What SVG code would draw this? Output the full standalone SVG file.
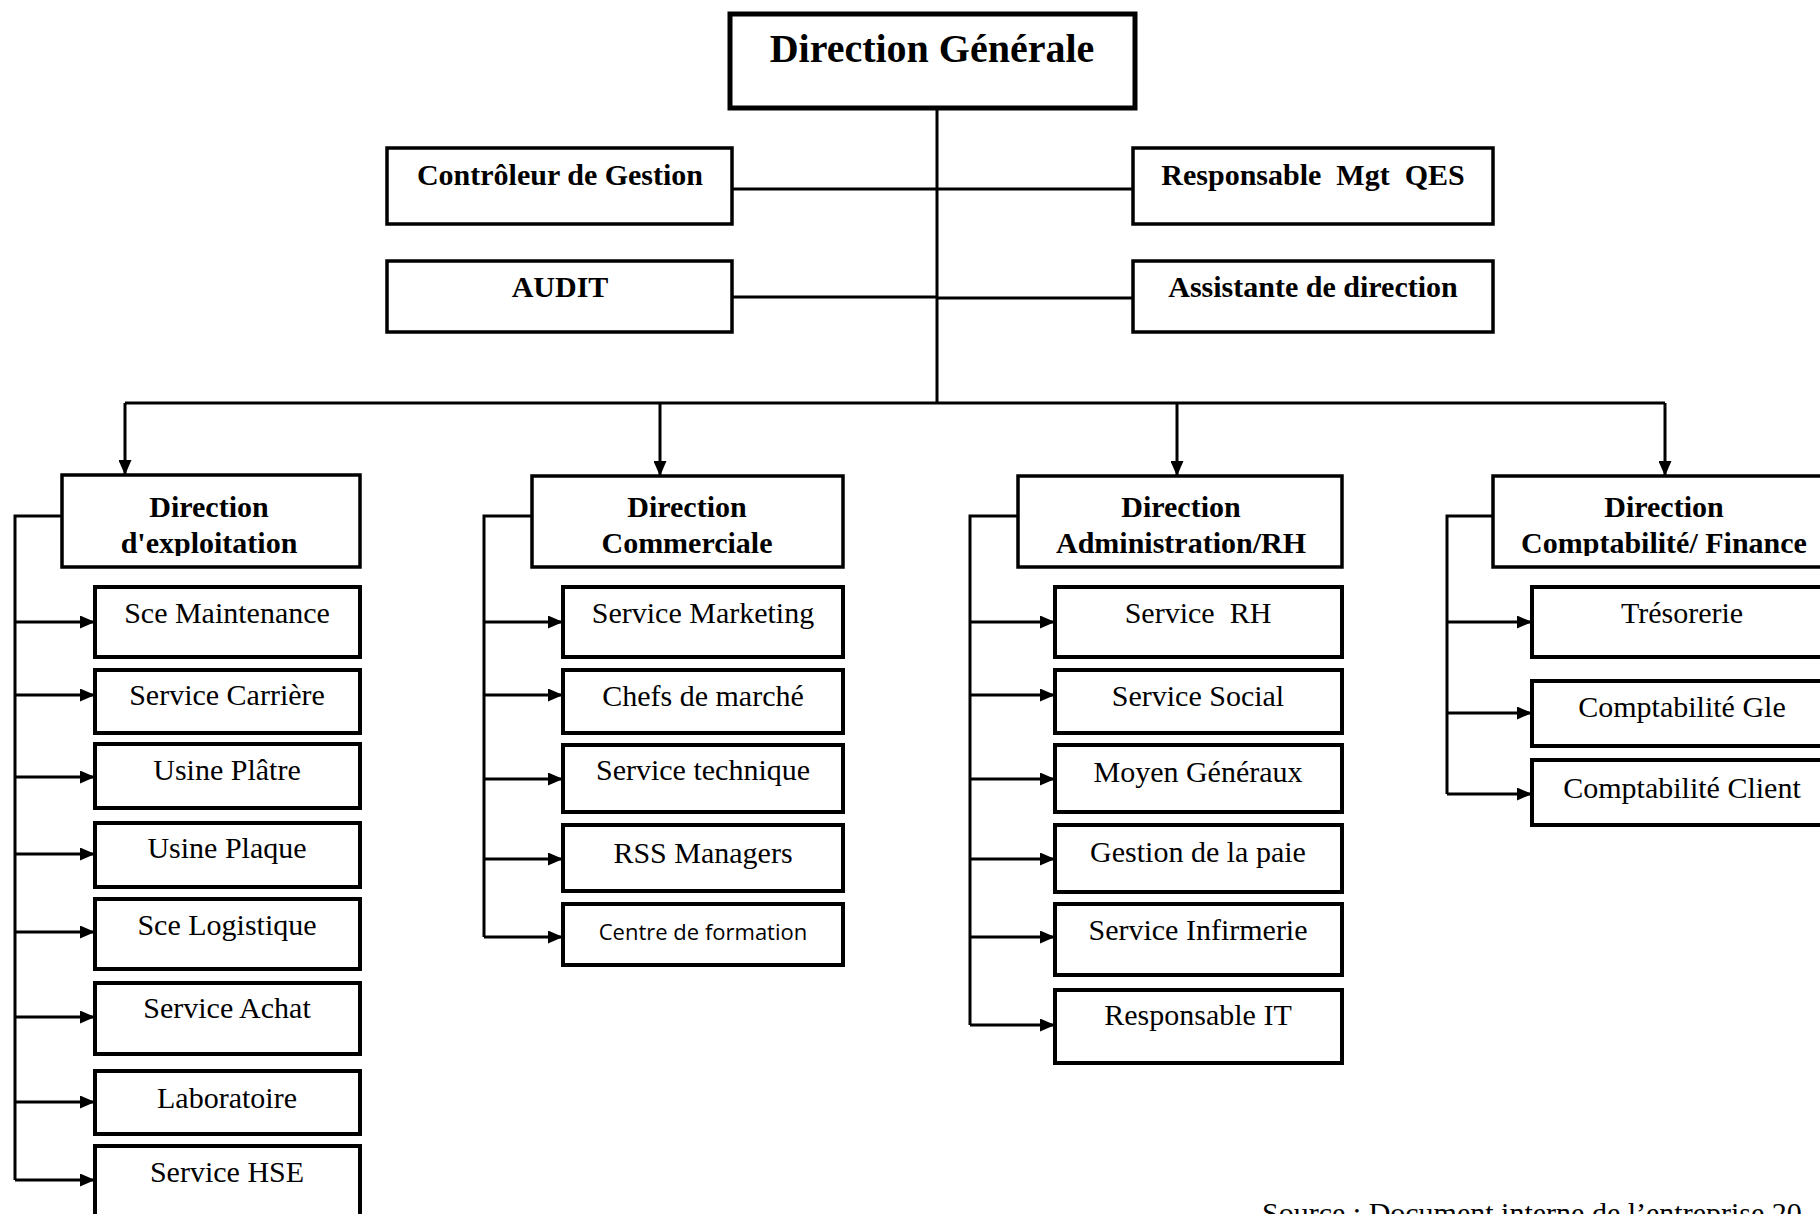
<svg xmlns="http://www.w3.org/2000/svg" width="1820" height="1214" viewBox="0 0 1820 1214">
<style>
.box{fill:#fff;stroke:#000;stroke-width:3.5}
.sub{fill:#fff;stroke:#000;stroke-width:4}
.top{fill:#fff;stroke:#000;stroke-width:5}
.b{font-family:"Liberation Serif","Times New Roman",serif;font-weight:bold;font-size:30px;text-anchor:middle;fill:#000}
.r{font-family:"Liberation Serif","Times New Roman",serif;font-size:30px;text-anchor:middle;fill:#000}
.s{font-family:"Open Sans","Liberation Sans",sans-serif;font-size:22px;text-anchor:middle;fill:#000}
.c{fill:none;stroke:#000;stroke-width:3}
.a{fill:none;stroke:#000;stroke-width:3;marker-end:url(#arr)}
</style>
<defs>
<marker id="arr" markerUnits="userSpaceOnUse" markerWidth="15" markerHeight="13" refX="15" refY="6.5" orient="auto">
<path d="M0,0 L15,6.5 L0,13 z" fill="#000"/>
</marker>
<clipPath id="hclip"><rect x="0" y="470" width="1820" height="86"/></clipPath>
</defs>
<rect width="1820" height="1214" fill="#fff"/>

<g id="connectors">
<path class="c" d="M937,108 V403"/>
<path class="c" d="M732,189 H937"/>
<path class="c" d="M732,297 H937"/>
<path class="c" d="M937,189 H1133"/>
<path class="c" d="M937,298 H1133"/>
<path class="c" d="M125,403 H1665"/>
<path class="a" d="M125,403 V475"/>
<path class="a" d="M660,403 V476"/>
<path class="a" d="M1177,403 V476"/>
<path class="a" d="M1665,403 V476"/>
<path class="c" d="M62,516 H15 V1180"/>
<path class="a" d="M15,622 H95"/>
<path class="a" d="M15,695 H95"/>
<path class="a" d="M15,777 H95"/>
<path class="a" d="M15,854 H95"/>
<path class="a" d="M15,932 H95"/>
<path class="a" d="M15,1017 H95"/>
<path class="a" d="M15,1102 H95"/>
<path class="a" d="M15,1180 H95"/>
<path class="c" d="M532,516 H484 V937"/>
<path class="a" d="M484,622 H563"/>
<path class="a" d="M484,695 H563"/>
<path class="a" d="M484,779 H563"/>
<path class="a" d="M484,859 H563"/>
<path class="a" d="M484,937 H563"/>
<path class="c" d="M1018,516 H970 V1025"/>
<path class="a" d="M970,622 H1055"/>
<path class="a" d="M970,695 H1055"/>
<path class="a" d="M970,779 H1055"/>
<path class="a" d="M970,859 H1055"/>
<path class="a" d="M970,937 H1055"/>
<path class="a" d="M970,1025 H1055"/>
<path class="c" d="M1493,516 H1447 V794"/>
<path class="a" d="M1447,622 H1532"/>
<path class="a" d="M1447,713 H1532"/>
<path class="a" d="M1447,794 H1532"/>
</g>

<g id="dg"><rect class="top" x="730" y="14" width="405" height="94"/><text class="b" style="font-size:40px" x="932" y="62">Direction Générale</text></g>
<g id="controleur"><rect class="box" x="387" y="148" width="345" height="76"/><text class="b" x="560" y="185">Contrôleur de Gestion</text></g>
<g id="audit"><rect class="box" x="387" y="261" width="345" height="71"/><text class="b" x="560" y="297">AUDIT</text></g>
<g id="qes"><rect class="box" x="1133" y="148" width="360" height="76"/><text class="b" x="1313" y="185" xml:space="preserve">Responsable  Mgt  QES</text></g>
<g id="assistante"><rect class="box" x="1133" y="261" width="360" height="71"/><text class="b" x="1313" y="297">Assistante de direction</text></g>

<g id="dir-exploitation"><rect class="box" x="62" y="475" width="298" height="92"/><g clip-path="url(#hclip)"><text class="b" x="209" y="517">Direction</text><text class="b" x="209" y="553">d'exploitation</text></g></g>
<g id="dir-commerciale"><rect class="box" x="532" y="476" width="311" height="91"/><g clip-path="url(#hclip)"><text class="b" x="687" y="517">Direction</text><text class="b" x="687" y="553">Commerciale</text></g></g>
<g id="dir-admin"><rect class="box" x="1018" y="476" width="324" height="91"/><g clip-path="url(#hclip)"><text class="b" x="1181" y="517">Direction</text><text class="b" x="1181" y="553">Administration/RH</text></g></g>
<g id="dir-compta"><rect class="box" x="1493" y="476" width="345" height="91"/><g clip-path="url(#hclip)"><text class="b" x="1664" y="517">Direction</text><text class="b" x="1664" y="553">Comptabilité/ Finance</text></g></g>

<g id="sce-maintenance"><rect class="sub" x="95" y="587" width="265" height="70"/><text class="r" x="227" y="623">Sce Maintenance</text></g>
<g id="service-carriere"><rect class="sub" x="95" y="670" width="265" height="63"/><text class="r" x="227" y="705">Service Carrière</text></g>
<g id="usine-platre"><rect class="sub" x="95" y="744" width="265" height="64"/><text class="r" x="227" y="780">Usine Plâtre</text></g>
<g id="usine-plaque"><rect class="sub" x="95" y="823" width="265" height="64"/><text class="r" x="227" y="858">Usine Plaque</text></g>
<g id="sce-logistique"><rect class="sub" x="95" y="899" width="265" height="70"/><text class="r" x="227" y="935">Sce Logistique</text></g>
<g id="service-achat"><rect class="sub" x="95" y="983" width="265" height="71"/><text class="r" x="227" y="1018">Service Achat</text></g>
<g id="laboratoire"><rect class="sub" x="95" y="1071" width="265" height="63"/><text class="r" x="227" y="1108">Laboratoire</text></g>
<g id="service-hse"><rect class="sub" x="95" y="1146" width="265" height="90"/><text class="r" x="227" y="1182">Service HSE</text></g>

<g id="service-marketing"><rect class="sub" x="563" y="587" width="280" height="70"/><text class="r" x="703" y="623">Service Marketing</text></g>
<g id="chefs-marche"><rect class="sub" x="563" y="670" width="280" height="63"/><text class="r" x="703" y="706">Chefs de marché</text></g>
<g id="service-technique"><rect class="sub" x="563" y="745" width="280" height="67"/><text class="r" x="703" y="780">Service technique</text></g>
<g id="rss-managers"><rect class="sub" x="563" y="825" width="280" height="66"/><text class="r" x="703" y="863">RSS Managers</text></g>
<g id="centre-formation"><rect class="sub" x="563" y="904" width="280" height="61"/><text class="s" x="703" y="940">Centre de formation</text></g>

<g id="service-rh"><rect class="sub" x="1055" y="587" width="287" height="70"/><text class="r" x="1198" y="623" xml:space="preserve">Service  RH</text></g>
<g id="service-social"><rect class="sub" x="1055" y="670" width="287" height="63"/><text class="r" x="1198" y="706">Service Social</text></g>
<g id="moyen-generaux"><rect class="sub" x="1055" y="745" width="287" height="67"/><text class="r" x="1198" y="782">Moyen Généraux</text></g>
<g id="gestion-paie"><rect class="sub" x="1055" y="825" width="287" height="67"/><text class="r" x="1198" y="862">Gestion de la paie</text></g>
<g id="service-infirmerie"><rect class="sub" x="1055" y="904" width="287" height="71"/><text class="r" x="1198" y="940">Service Infirmerie</text></g>
<g id="responsable-it"><rect class="sub" x="1055" y="990" width="287" height="73"/><text class="r" x="1198" y="1025">Responsable IT</text></g>

<g id="tresorerie"><rect class="sub" x="1532" y="587" width="300" height="70"/><text class="r" x="1682" y="623">Trésorerie</text></g>
<g id="compta-gle"><rect class="sub" x="1532" y="681" width="300" height="65"/><text class="r" x="1682" y="717">Comptabilité Gle</text></g>
<g id="compta-client"><rect class="sub" x="1532" y="760" width="300" height="65"/><text class="r" x="1682" y="798">Comptabilité Client</text></g>

<text class="r" style="text-anchor:start" x="1262" y="1223">Source : Document interne de l’entreprise 20</text>
</svg>
